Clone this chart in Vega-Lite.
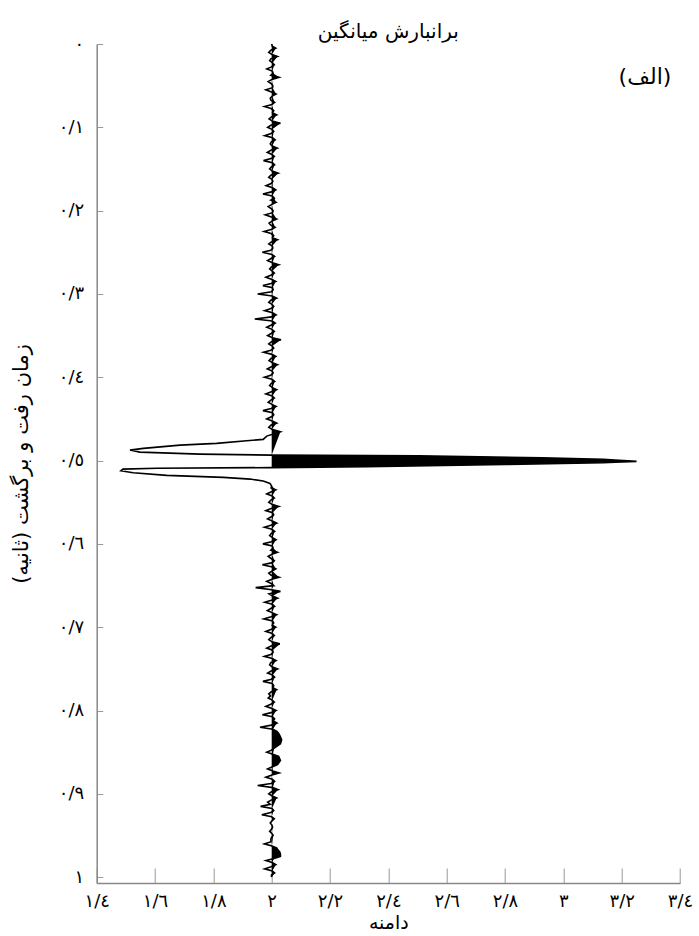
{
  "$schema": "https://vega.github.io/schema/vega-lite/v6.json",
  "autosize": {"type": "none"},
  "padding": {"left": 96.7, "top": 44, "right": 19, "bottom": 53},
  "width": 583.3,
  "height": 839,
  "background": "white",
  "config": {"view": {"stroke": null}, "font": "DejaVu Sans"},
  "title": {"text": "برانبارش میانگین", "fontSize": 20, "font": "DejaVu Sans", "fontWeight": "normal", "color": "black", "offset": -7},
  "datasets": {
    "trace": [
      {"t":0.000,"a":2.000},{"t":0.0025,"a":2.002},{"t":0.005,"a":2.014},{"t":0.0075,"a":1.997},{"t":0.010,"a":1.990},{"t":0.0125,"a":2.001},
      {"t":0.015,"a":2.020},{"t":0.0175,"a":1.998},{"t":0.020,"a":1.993},{"t":0.0225,"a":2.003},{"t":0.025,"a":2.009},{"t":0.0275,"a":1.999},
      {"t":0.030,"a":1.983},{"t":0.0325,"a":2.002},{"t":0.035,"a":2.005},{"t":0.0375,"a":1.997},{"t":0.040,"a":2.025},{"t":0.0425,"a":2.001},
      {"t":0.045,"a":1.988},{"t":0.0475,"a":1.998},{"t":0.050,"a":2.004},{"t":0.0525,"a":2.003},{"t":0.055,"a":1.980},{"t":0.0575,"a":1.999},
      {"t":0.060,"a":2.015},{"t":0.0625,"a":2.002},{"t":0.065,"a":1.995},{"t":0.0675,"a":1.997},{"t":0.070,"a":2.010},{"t":0.0725,"a":2.001},
      {"t":0.075,"a":1.975},{"t":0.0775,"a":1.998},{"t":0.080,"a":2.007},{"t":0.0825,"a":2.003},{"t":0.085,"a":2.017},{"t":0.0875,"a":1.999},
      {"t":0.090,"a":1.991},{"t":0.0925,"a":2.002},{"t":0.095,"a":2.030},{"t":0.0975,"a":1.997},{"t":0.100,"a":1.986},{"t":0.1025,"a":2.001},
      {"t":0.105,"a":2.007},{"t":0.1075,"a":1.998},{"t":0.110,"a":1.976},{"t":0.1125,"a":2.003},{"t":0.115,"a":2.012},{"t":0.1175,"a":1.999},
      {"t":0.120,"a":1.995},{"t":0.1225,"a":2.002},{"t":0.125,"a":2.019},{"t":0.1275,"a":1.997},{"t":0.130,"a":1.985},{"t":0.1325,"a":2.001},
      {"t":0.135,"a":2.009},{"t":0.1375,"a":1.998},{"t":0.140,"a":1.972},{"t":0.1425,"a":2.003},{"t":0.145,"a":2.010},{"t":0.1475,"a":1.999},
      {"t":0.150,"a":1.993},{"t":0.1525,"a":2.002},{"t":0.155,"a":2.022},{"t":0.1575,"a":1.997},{"t":0.160,"a":1.990},{"t":0.1625,"a":2.001},
      {"t":0.165,"a":2.004},{"t":0.1675,"a":1.998},{"t":0.170,"a":1.981},{"t":0.1725,"a":2.003},{"t":0.175,"a":2.014},{"t":0.1775,"a":1.999},
      {"t":0.180,"a":1.970},{"t":0.1825,"a":2.002},{"t":0.185,"a":2.009},{"t":0.1875,"a":1.997},{"t":0.190,"a":2.015},{"t":0.1925,"a":2.001},
      {"t":0.195,"a":1.988},{"t":0.1975,"a":1.998},{"t":0.200,"a":2.005},{"t":0.2025,"a":2.003},{"t":0.205,"a":1.978},{"t":0.2075,"a":1.999},
      {"t":0.210,"a":2.017},{"t":0.2125,"a":2.002},{"t":0.215,"a":1.991},{"t":0.2175,"a":1.997},{"t":0.220,"a":2.012},{"t":0.2225,"a":2.001},
      {"t":0.225,"a":1.974},{"t":0.2275,"a":1.998},{"t":0.230,"a":2.007},{"t":0.2325,"a":2.003},{"t":0.235,"a":2.020},{"t":0.2375,"a":1.999},
      {"t":0.240,"a":1.990},{"t":0.2425,"a":2.002},{"t":0.245,"a":2.004},{"t":0.2475,"a":1.997},{"t":0.250,"a":1.968},{"t":0.2525,"a":2.001},
      {"t":0.255,"a":2.010},{"t":0.2575,"a":1.998},{"t":0.260,"a":1.986},{"t":0.2625,"a":2.003},{"t":0.265,"a":2.024},{"t":0.2675,"a":1.999},
      {"t":0.270,"a":1.993},{"t":0.2725,"a":2.002},{"t":0.275,"a":2.009},{"t":0.2775,"a":1.997},{"t":0.280,"a":1.980},{"t":0.2825,"a":2.001},
      {"t":0.285,"a":2.014},{"t":0.2875,"a":1.998},{"t":0.290,"a":1.970},{"t":0.2925,"a":2.003},{"t":0.295,"a":2.005},{"t":0.2975,"a":1.999},
      {"t":0.300,"a":1.952},{"t":0.3025,"a":2.002},{"t":0.305,"a":2.017},{"t":0.3075,"a":1.997},{"t":0.310,"a":1.990},{"t":0.3125,"a":2.001},
      {"t":0.315,"a":2.007},{"t":0.3175,"a":1.998},{"t":0.320,"a":1.976},{"t":0.3225,"a":2.003},{"t":0.325,"a":2.015},{"t":0.3275,"a":1.999},
      {"t":0.330,"a":1.942},{"t":0.3325,"a":2.002},{"t":0.335,"a":2.012},{"t":0.3375,"a":1.997},{"t":0.340,"a":1.983},{"t":0.3425,"a":2.001},
      {"t":0.345,"a":2.009},{"t":0.3475,"a":1.998},{"t":0.350,"a":1.986},{"t":0.3525,"a":2.003},{"t":0.355,"a":2.032},{"t":0.3575,"a":1.999},
      {"t":0.360,"a":1.990},{"t":0.3625,"a":2.002},{"t":0.365,"a":2.007},{"t":0.3675,"a":1.997},{"t":0.370,"a":1.972},{"t":0.3725,"a":2.001},
      {"t":0.375,"a":2.014},{"t":0.3775,"a":1.998},{"t":0.380,"a":1.991},{"t":0.3825,"a":2.003},{"t":0.385,"a":2.020},{"t":0.3875,"a":1.999},
      {"t":0.390,"a":1.985},{"t":0.3925,"a":2.002},{"t":0.395,"a":2.005},{"t":0.3975,"a":1.997},{"t":0.400,"a":1.975},{"t":0.4025,"a":2.001},
      {"t":0.405,"a":2.010},{"t":0.4075,"a":1.998},{"t":0.410,"a":1.993},{"t":0.4125,"a":2.003},{"t":0.415,"a":2.017},{"t":0.4175,"a":1.999},
      {"t":0.420,"a":1.980},{"t":0.4225,"a":2.002},{"t":0.425,"a":2.009},{"t":0.4275,"a":1.997},{"t":0.430,"a":1.988},{"t":0.4325,"a":2.001},
      {"t":0.435,"a":2.015},{"t":0.4375,"a":1.998},{"t":0.440,"a":1.970},{"t":0.4425,"a":2.003},{"t":0.445,"a":2.007},{"t":0.4475,"a":1.999},
      {"t":0.450,"a":1.983},{"t":0.4525,"a":2.002},{"t":0.455,"a":2.017},{"t":0.4575,"a":1.997},{"t":0.460,"a":1.990},{"t":0.4625,"a":2.001},
      {"t":0.4655,"a":2.030},{"t":0.4706,"a":1.983},{"t":0.4746,"a":1.971},{"t":0.4762,"a":1.914},{"t":0.4794,"a":1.811},{"t":0.4814,"a":1.686},
      {"t":0.4854,"a":1.560},{"t":0.4874,"a":1.514},{"t":0.4898,"a":1.548},{"t":0.4922,"a":1.754},{"t":0.4934,"a":2.000},
      {"t":0.4942,"a":2.503},{"t":0.4966,"a":2.929},{"t":0.4986,"a":3.137},{"t":0.4994,"a":3.177},{"t":0.5010,"a":3.251},{"t":0.5018,"a":3.177},
      {"t":0.5026,"a":3.137},{"t":0.5046,"a":2.800},{"t":0.5074,"a":2.326},{"t":0.5084,"a":2.000},
      {"t":0.5092,"a":1.606},{"t":0.5102,"a":1.490},{"t":0.5122,"a":1.483},{"t":0.5146,"a":1.525},{"t":0.5178,"a":1.640},{"t":0.5202,"a":1.834},
      {"t":0.5222,"a":1.926},{"t":0.5246,"a":1.971},{"t":0.5274,"a":1.994},{"t":0.5306,"a":2.000},
      {"t":0.533,"a":1.998},{"t":0.535,"a":2.014},{"t":0.5375,"a":1.999},{"t":0.540,"a":1.983},{"t":0.5425,"a":2.002},{"t":0.545,"a":2.009},
      {"t":0.5475,"a":1.997},{"t":0.550,"a":1.990},{"t":0.5525,"a":2.001},{"t":0.555,"a":2.024},{"t":0.5575,"a":1.998},{"t":0.560,"a":1.980},
      {"t":0.5625,"a":2.003},{"t":0.565,"a":2.007},{"t":0.5675,"a":1.999},{"t":0.570,"a":1.986},{"t":0.5725,"a":2.002},{"t":0.575,"a":2.017},
      {"t":0.5775,"a":1.997},{"t":0.580,"a":1.975},{"t":0.5825,"a":2.001},{"t":0.585,"a":2.010},{"t":0.5875,"a":1.998},{"t":0.590,"a":1.993},
      {"t":0.5925,"a":2.003},{"t":0.595,"a":2.015},{"t":0.5975,"a":1.999},{"t":0.600,"a":1.970},{"t":0.6025,"a":2.002},{"t":0.605,"a":2.005},
      {"t":0.6075,"a":1.997},{"t":0.610,"a":2.020},{"t":0.6125,"a":2.001},{"t":0.615,"a":1.988},{"t":0.6175,"a":1.998},{"t":0.620,"a":2.009},
      {"t":0.6225,"a":2.003},{"t":0.625,"a":1.968},{"t":0.6275,"a":1.999},{"t":0.630,"a":2.014},{"t":0.6325,"a":2.002},{"t":0.635,"a":1.990},
      {"t":0.6375,"a":1.997},{"t":0.640,"a":2.025},{"t":0.6425,"a":2.001},{"t":0.645,"a":1.983},{"t":0.6475,"a":1.998},{"t":0.650,"a":2.007},
      {"t":0.6525,"a":1.945},{"t":0.655,"a":2.000},{"t":0.657,"a":2.030},{"t":0.660,"a":1.991},{"t":0.6625,"a":2.003},{"t":0.665,"a":2.020},
      {"t":0.6675,"a":1.999},{"t":0.670,"a":1.976},{"t":0.6725,"a":2.002},{"t":0.675,"a":2.010},{"t":0.6775,"a":1.997},{"t":0.680,"a":1.985},
      {"t":0.6825,"a":2.001},{"t":0.685,"a":2.017},{"t":0.6875,"a":1.998},{"t":0.690,"a":1.973},{"t":0.6925,"a":2.003},{"t":0.695,"a":2.007},
      {"t":0.6975,"a":2.002},{"t":0.700,"a":2.014},{"t":0.7025,"a":1.999},{"t":0.705,"a":1.980},{"t":0.7075,"a":2.002},{"t":0.710,"a":2.009},
      {"t":0.7125,"a":1.997},{"t":0.715,"a":1.990},{"t":0.7175,"a":2.001},{"t":0.720,"a":2.028},{"t":0.7225,"a":1.998},{"t":0.725,"a":1.983},
      {"t":0.7275,"a":2.003},{"t":0.730,"a":2.005},{"t":0.7325,"a":1.999},{"t":0.735,"a":1.975},{"t":0.7375,"a":2.002},{"t":0.740,"a":2.015},
      {"t":0.7425,"a":1.997},{"t":0.745,"a":1.993},{"t":0.7475,"a":2.001},{"t":0.750,"a":2.020},{"t":0.7525,"a":1.998},{"t":0.755,"a":1.986},
      {"t":0.7575,"a":2.003},{"t":0.760,"a":2.010},{"t":0.7625,"a":1.999},{"t":0.765,"a":1.970},{"t":0.7675,"a":2.002},{"t":0.770,"a":2.007},
      {"t":0.7725,"a":2.004},{"t":0.775,"a":2.017},{"t":0.7775,"a":1.999},{"t":0.780,"a":1.990},{"t":0.7825,"a":1.996},{"t":0.785,"a":1.988},
      {"t":0.7875,"a":2.002},{"t":0.790,"a":2.009},{"t":0.7925,"a":1.997},{"t":0.795,"a":1.980},{"t":0.7975,"a":2.001},{"t":0.800,"a":2.015},
      {"t":0.8025,"a":1.998},{"t":0.805,"a":1.968},{"t":0.8075,"a":2.003},{"t":0.810,"a":2.010},{"t":0.8125,"a":2.006},{"t":0.815,"a":2.018},
      {"t":0.8175,"a":1.999},{"t":0.820,"a":1.960},{"t":0.8225,"a":2.004},{"t":0.825,"a":2.018},{"t":0.8275,"a":2.024},{"t":0.830,"a":2.028},
      {"t":0.8325,"a":2.031},{"t":0.835,"a":2.034},{"t":0.8375,"a":2.032},{"t":0.840,"a":2.030},{"t":0.8425,"a":2.020},{"t":0.845,"a":2.009},
      {"t":0.8475,"a":1.999},{"t":0.850,"a":1.983},{"t":0.8525,"a":2.004},{"t":0.855,"a":2.024},{"t":0.8575,"a":2.027},{"t":0.860,"a":2.030},
      {"t":0.8625,"a":2.025},{"t":0.865,"a":2.020},{"t":0.8675,"a":2.003},{"t":0.870,"a":1.986},{"t":0.8725,"a":2.004},{"t":0.875,"a":2.026},
      {"t":0.8775,"a":2.001},{"t":0.880,"a":1.980},{"t":0.8825,"a":2.002},{"t":0.885,"a":2.010},{"t":0.8875,"a":1.998},{"t":0.890,"a":1.952},
      {"t":0.8925,"a":2.004},{"t":0.895,"a":2.022},{"t":0.8975,"a":1.999},{"t":0.900,"a":1.990},{"t":0.9025,"a":2.002},{"t":0.905,"a":2.017},
      {"t":0.9075,"a":1.998},{"t":0.910,"a":1.986},{"t":0.9125,"a":1.995},{"t":0.915,"a":1.962},{"t":0.9175,"a":2.001},{"t":0.920,"a":2.007},
      {"t":0.9225,"a":1.997},{"t":0.925,"a":1.966},{"t":0.9275,"a":2.000},{"t":0.930,"a":2.009},{"t":0.9325,"a":2.001},{"t":0.935,"a":1.995},
      {"t":0.9375,"a":2.001},{"t":0.940,"a":2.003},{"t":0.9425,"a":1.999},{"t":0.945,"a":1.993},{"t":0.9475,"a":2.001},{"t":0.950,"a":2.005},
      {"t":0.9525,"a":1.999},{"t":0.955,"a":1.997},{"t":0.9575,"a":1.998},{"t":0.960,"a":1.975},{"t":0.9625,"a":2.001},{"t":0.965,"a":2.017},
      {"t":0.9675,"a":2.022},{"t":0.970,"a":2.028},{"t":0.9725,"a":2.030},{"t":0.975,"a":2.030},{"t":0.9775,"a":2.008},{"t":0.980,"a":1.980},
      {"t":0.9825,"a":2.002},{"t":0.985,"a":2.014},{"t":0.9875,"a":1.998},{"t":0.990,"a":1.976},{"t":0.9925,"a":2.002},{"t":0.995,"a":2.010},
      {"t":0.9975,"a":1.999},{"t":1.000,"a":2.000}
    ],
    "note": [{"label": "(الف)", "a": 3.28, "t": 0.04}]
  },
  "encoding": {
    "x": {
      "field": "a", "type": "quantitative",
      "scale": {"domain": [1.4, 3.4], "nice": false, "zero": false},
      "axis": {
        "values": [1.4, 1.6, 1.8, 2.0, 2.2, 2.4, 2.6, 2.8, 3.0, 3.2, 3.4],
        "labelExpr": "['١/٤','١/٦','١/٨','٢','٢/٢','٢/٤','٢/٦','٢/٨','٣','٣/٢','٣/٤'][round((datum.value-1.4)*5)]",
        "title": "دامنه", "titleFont": "DejaVu Sans", "titleFontSize": 19, "titleFontWeight": "normal", "titleColor": "black", "titlePadding": 3,
        "labelFont": "DejaVu Sans", "labelFontSize": 18, "labelColor": "black", "labelFlush": false, "labelOverlap": false, "labelPadding": 24,
        "tickSize": -15, "tickColor": "#999", "tickWidth": 1,
        "domainColor": "#888", "domainWidth": 1.5, "grid": false
      }
    },
    "y": {
      "field": "t", "type": "quantitative",
      "scale": {"domain": [0, 1.007], "nice": false, "zero": false, "reverse": true},
      "axis": {
        "values": [0, 0.1, 0.2, 0.3, 0.4, 0.5, 0.6, 0.7, 0.8, 0.9, 1.0],
        "labelExpr": "['٠','٠/١','٠/٢','٠/٣','٠/٤','٠/٥','٠/٦','٠/٧','٠/٨','٠/٩','١'][round(datum.value*10)]",
        "title": "زمان رفت و برگشت (ثانیه)", "titleFont": "DejaVu Sans", "titleFontSize": 21, "titleFontWeight": "normal", "titleColor": "black", "titlePadding": 27,
        "labelFont": "DejaVu Sans", "labelFontSize": 18, "labelColor": "black", "labelFlush": false, "labelOverlap": false, "labelPadding": 19,
        "tickSize": -6, "tickColor": "#999", "tickWidth": 1,
        "domainColor": "#888", "domainWidth": 1.5, "grid": false
      }
    }
  },
  "layer": [
    {
      "data": {"name": "trace"},
      "transform": [{"filter": "datum.a >= 2"}],
      "mark": {"type": "area", "orient": "horizontal", "color": "black"},
      "encoding": {"x2": {"datum": 2}}
    },
    {
      "data": {"name": "trace"},
      "mark": {"type": "line", "color": "black", "strokeWidth": 1.6},
      "encoding": {"order": {"field": "t", "type": "quantitative"}}
    },
    {
      "data": {"name": "note"},
      "mark": {"type": "text", "fontSize": 22, "font": "DejaVu Sans", "color": "black"},
      "encoding": {"text": {"field": "label", "type": "nominal"}}
    }
  ]
}
